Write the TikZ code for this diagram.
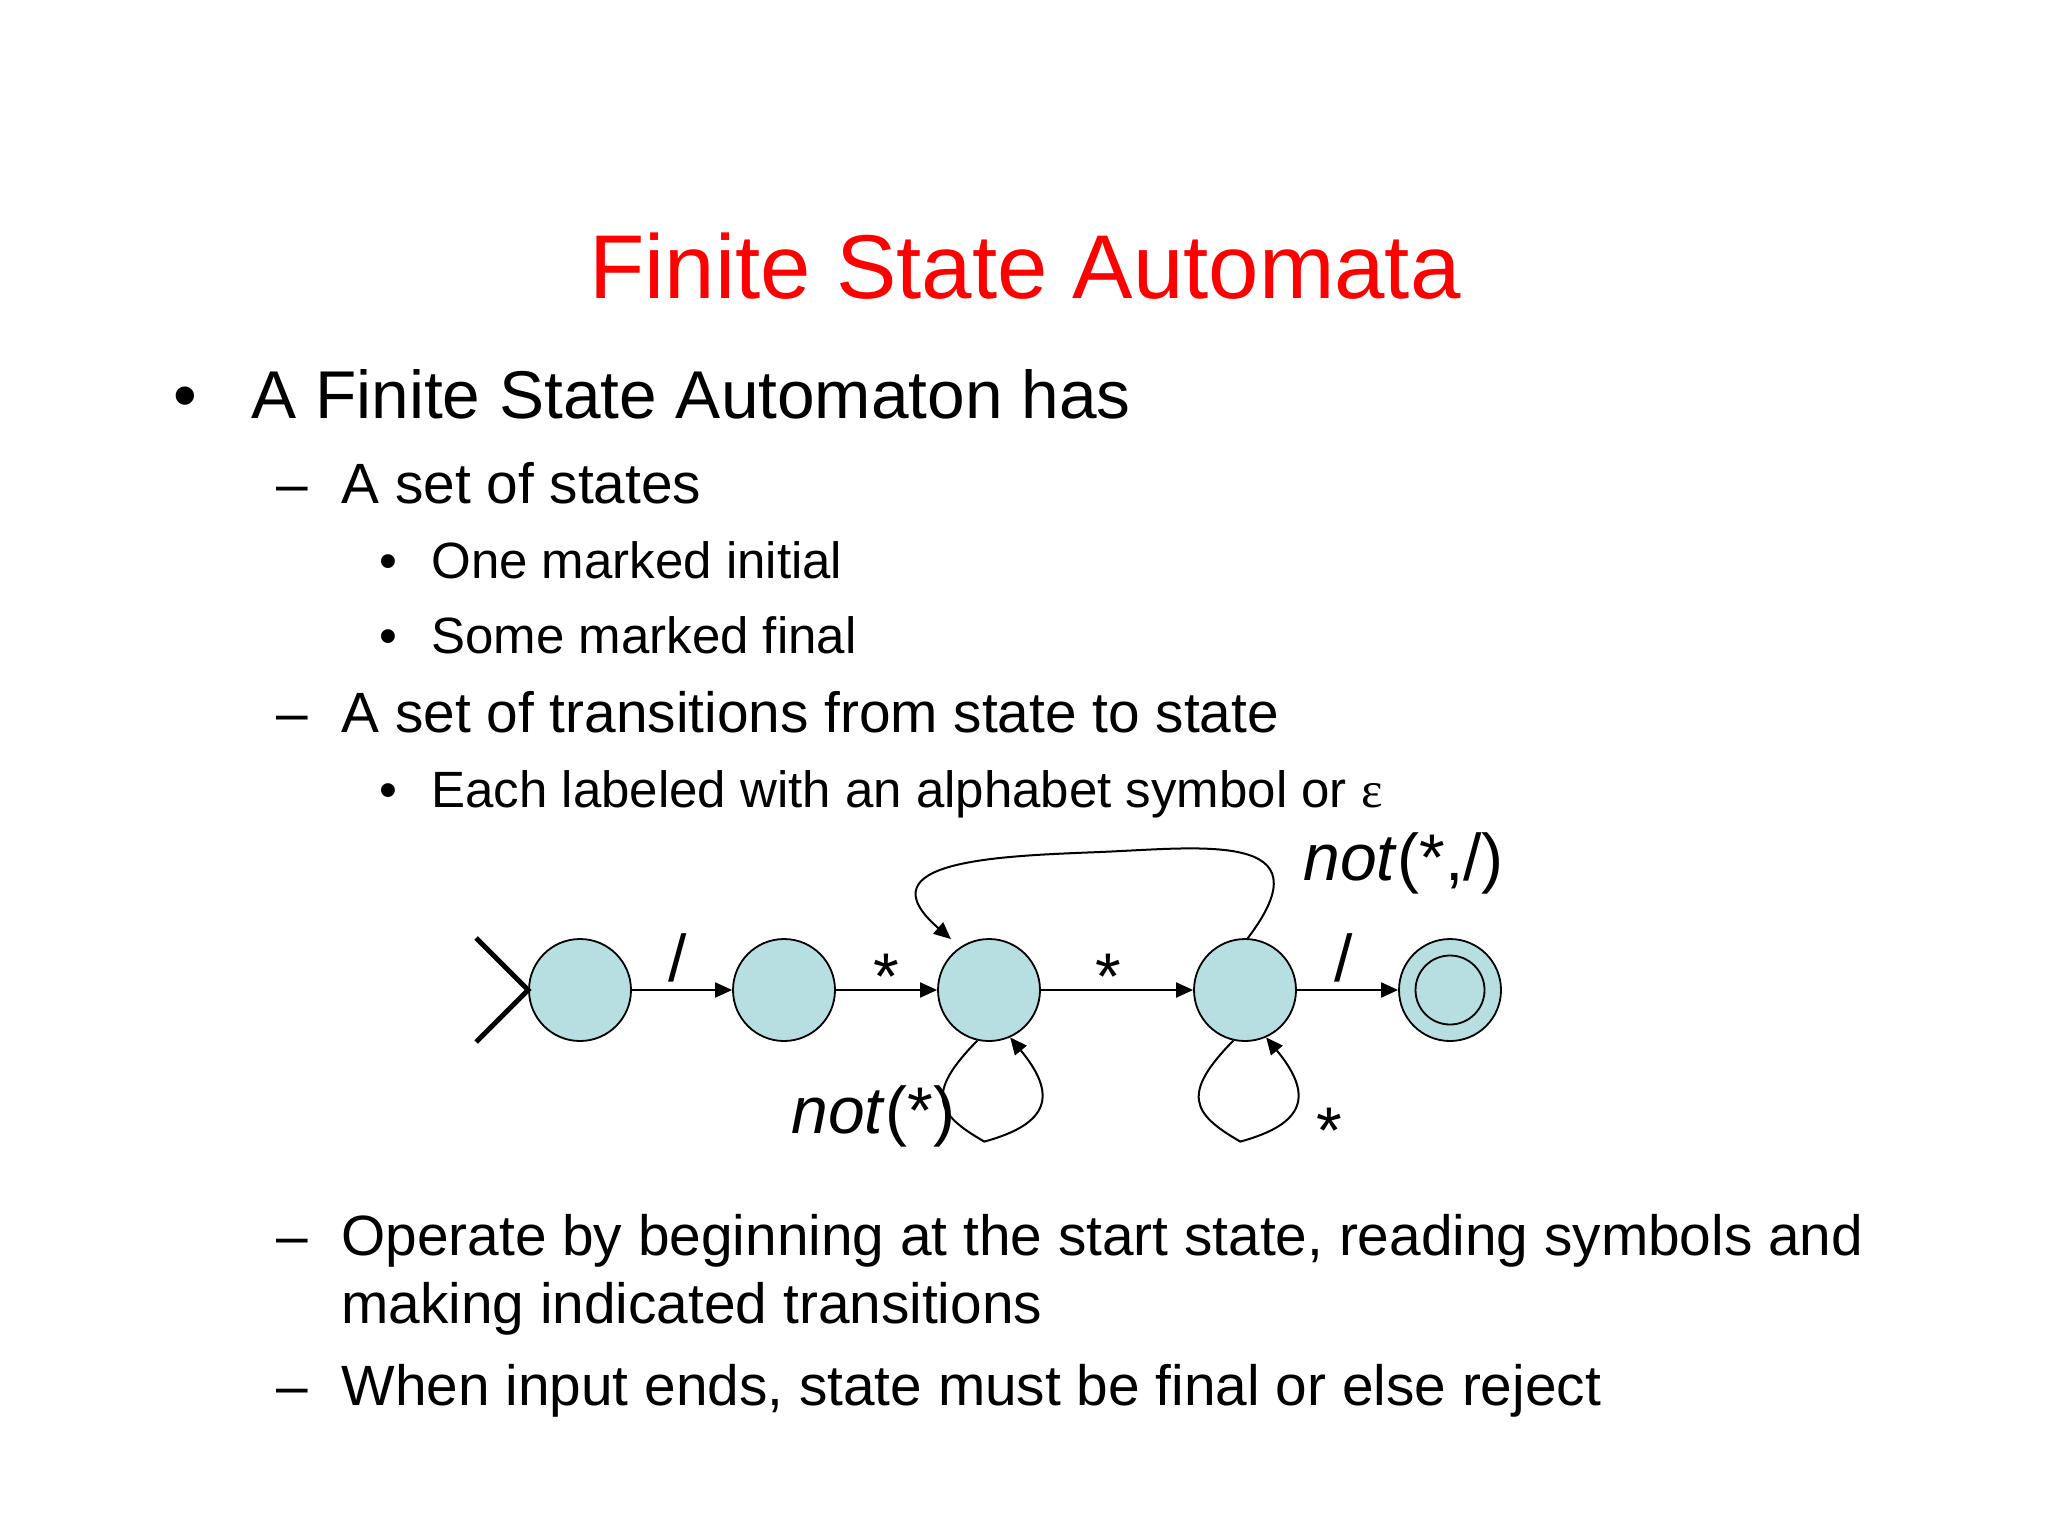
\documentclass[tikz,border=0pt]{standalone}
\usepackage{fontspec}
\setmainfont{Liberation Sans}
\newfontfamily\serifgreek{Liberation Serif}
\usetikzlibrary{arrows.meta}
\definecolor{titlered}{RGB}{255, 0, 0}
\definecolor{statefill}{RGB}{183, 222, 224}

\begin{document}
\begin{tikzpicture}[x=0.5pt, y=-0.5pt, >={Triangle[length=8.5pt, width=7.5pt]},
    state/.style={draw, circle, fill=statefill, line width=0.9pt,
                  minimum size=51pt, inner sep=0pt},
    trans/.style={->, line width=1pt},
    lbl/.style={inner sep=0pt, anchor=base, font=\fontsize{33}{40}\selectfont},
    lvl1/.style={inner sep=0pt, anchor=base west, font=\fontsize{33.8}{40}\selectfont},
    lvl2/.style={inner sep=0pt, anchor=base west, font=\fontsize{28.4}{34}\selectfont},
    lvl3/.style={inner sep=0pt, anchor=base west, font=\fontsize{25.5}{30}\selectfont}]
  \useasboundingbox (0,0) rectangle (2048,1536);

  % title and bullet text
  \node[inner sep=0pt, anchor=base, titlered, font=\fontsize{45.3}{54}\selectfont]
        (title) at (1025,298) {Finite State Automata};
  \node[lvl1] (b1) at (173,418) {\textbullet};
  \node[lvl1] (t1) at (251,418) {A Finite State Automaton has};
  \node[lvl2] (d1) at (276,503) {\textendash};
  \node[lvl2] (t2) at (341,503) {A set of states};
  \node[lvl3] (b2) at (379,578) {\textbullet};
  \node[lvl3] (t3) at (431,578) {One marked initial};
  \node[lvl3] (b3) at (379,653) {\textbullet};
  \node[lvl3] (t4) at (431,653) {Some marked final};
  \node[lvl2] (d2) at (276,732) {\textendash};
  \node[lvl2] (t5) at (341,732) {A set of transitions from state to state};
  \node[lvl3] (b4) at (379,807) {\textbullet};
  \node[lvl3] (t6) at (431,807) {Each labeled with an alphabet symbol or {\serifgreek ε}};
  \node[lvl2] (d3) at (276,1255) {\textendash};
  \node[lvl2] (t7) at (341,1255) {Operate by beginning at the start state, reading symbols and};
  \node[lvl2] (t7b) at (341,1323) {making indicated transitions};
  \node[lvl2] (d4) at (276,1405) {\textendash};
  \node[lvl2] (t8) at (341,1405) {When input ends, state must be final or else reject};

  % the automaton
  \node[state] (s1) at (580,990) {};
  \node[state] (s2) at (784,990) {};
  \node[state] (s3) at (989,990) {};
  \node[state] (s4) at (1245,990) {};
  \node[state] (s5) at (1450,990) {};
  \node[draw, circle, line width=0.9pt, minimum size=34.5pt, inner sep=0pt] (s5in) at (s5) {};

  \draw[line width=2.5pt] (s1.west) ++(-52,-52) -- (s1.west) -- ++(-52,52);
  \foreach \a/\b in {s1/s2, s2/s3, s3/s4, s4/s5}
    \draw[trans] (\a) -- (\b);
  \foreach \s in {s3, s4}
    \draw[trans] (\s.257) .. controls +(-52,53) and +(-49,-28) .. ++(7,101)
                 .. controls +(66,-18) and +(47,57) .. (\s.294);
  \draw[trans, shorten >=6pt] (s4.87) .. controls (1330,830) and (1200,848) .. (1100,852)
        .. controls (1000,856) and (860,860) .. (s3.124);

  \node[lbl] (l12) at (678,981) {/};
  \node[lbl] (l23) at (886,999) {*};
  \node[lbl] (l34) at (1108,999) {*};
  \node[lbl] (l45) at (1344,981) {/};
  \node[lbl] (l44) at (1329,1153) {*};
  \node[lbl, anchor=base west] (l33) at (791,1133) {\textit{not}(*)};
  \node[lbl, anchor=base west] (l43) at (1303,880) {\textit{not}(*,/)};
\end{tikzpicture}
\end{document}
